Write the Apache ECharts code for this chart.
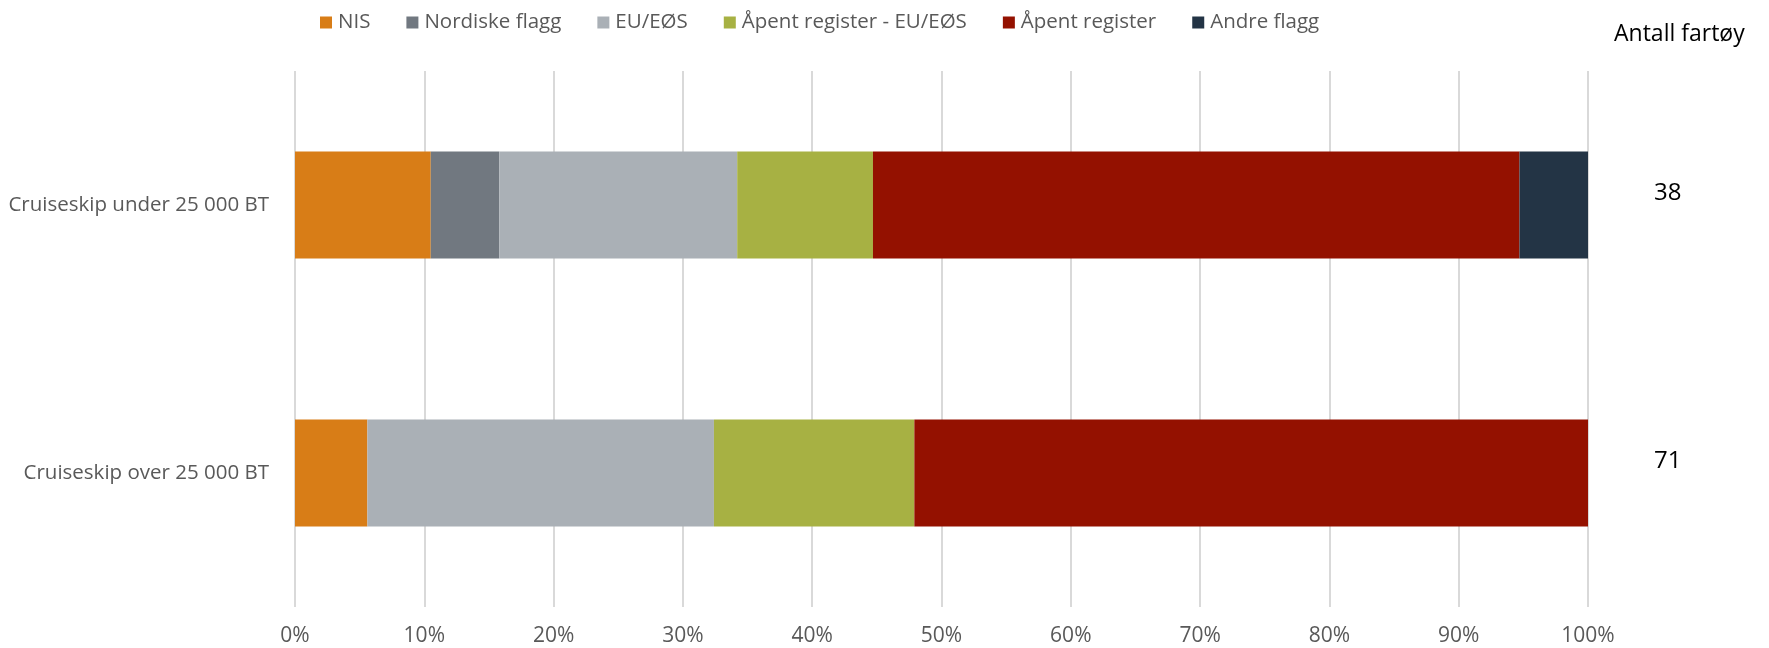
<!DOCTYPE html>
<html>
<head>
<meta charset="utf-8">
<script src="https://cdn.jsdelivr.net/npm/echarts@6/dist/echarts.min.js"></script>
<style>
html,body{margin:0;padding:0;background:#fff;}
#c{width:1769px;height:648px;}
</style>
</head>
<body>
<div id="c"></div>
<script>
// Categories (top to bottom)
const categories = ['Cruiseskip under 25 000 BT', 'Cruiseskip over 25 000 BT'];
// Number of vessels per category
const vesselCounts = ['38', '71'];
// Tick labels
const tickValues = [0, 10, 20, 30, 40, 50, 60, 70, 80, 90, 100];
// Series names
const seriesNames = ['NIS', 'Nordiske flagg', 'EU/EØS', 'Åpent register - EU/EØS', 'Åpent register', 'Andre flagg'];
// Shares in percent (under, over)
const nis = [10.5, 5.6];
const nordiske = [5.3, 0];
const euEos = [18.4, 26.8];
const apentEu = [10.5, 15.5];
const apent = [50.0, 52.1];
const andre = [5.3, 0];
const seriesValues = [nis, nordiske, euEos, apentEu, apent, andre];
const colors = ['#D87D17', '#717880', '#AAB0B6', '#A7B143', '#941100', '#233445'];

const FONT = 'Open Sans';
const chart = echarts.init(document.getElementById('c'), null, {renderer: 'canvas'});
chart.setOption({
  animation: false,
  color: colors,
  textStyle: {fontFamily: FONT},
  title: {
    text: 'Antall fartøy',
    left: 1609, top: 18,
    textStyle: {fontFamily: FONT, fontSize: 23, fontWeight: 'normal', color: '#000'}
  },
  legend: {
    data: seriesNames,
    left: 315, top: 7,
    itemWidth: 12, itemHeight: 12, itemGap: 36,
    icon: 'rect',
    textStyle: {fontFamily: FONT, fontSize: 20.5, color: '#595959', padding: [0,0,0,1]}
  },
  grid: {left: 295, right: 181, top: 71, bottom: 41, containLabel: false},
  xAxis: {
    type: 'value', min: 0, max: 100, interval: 10,
    axisLine: {show: false}, axisTick: {show: false},
    splitLine: {show: true, lineStyle: {color: '#D9D9D9', width: 2}},
    axisLabel: {
      formatter: v => tickValues.includes(v) ? v + '%' : '',
      fontFamily: FONT, fontSize: 21, color: '#595959', margin: 19
    }
  },
  yAxis: [{
    type: 'category', data: categories, inverse: true,
    axisLine: {show: false}, axisTick: {show: false},
    axisLabel: {fontFamily: FONT, fontSize: 20.5, color: '#595959', margin: 26}
  }, {
    type: 'category', data: vesselCounts, inverse: true, position: 'right',
    axisLine: {show: false}, axisTick: {show: false}, splitLine: {show: false},
    axisLabel: {fontFamily: FONT, fontSize: 24, color: '#000', margin: 66, verticalAlign: 'bottom'}
  }],
  series: seriesNames.map((name, i) => ({
    name: name, type: 'bar', stack: 'total',
    barCategoryGap: '60%',
    data: seriesValues[i],
    itemStyle: {color: colors[i]}
  }))
});
</script>
</body>
</html>
